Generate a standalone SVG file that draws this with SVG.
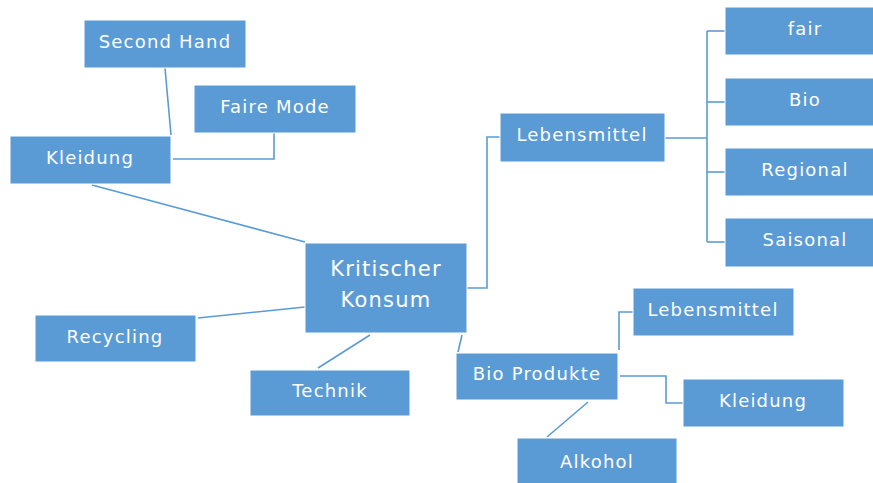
<svg xmlns="http://www.w3.org/2000/svg" width="873" height="483" viewBox="0 0 873 483">
<style>
.n rect{fill:#5b9bd5;stroke:#ffffff;stroke-width:1}
.n text{fill:#ffffff;font-family:"DejaVu Sans","Liberation Sans",sans-serif;font-size:18px;text-anchor:middle;letter-spacing:1.2px}
.big text{font-size:21px}
.c{fill:none;stroke:#5b9bd5;stroke-width:1.6}
</style>
<rect width="873" height="483" fill="#ffffff"/>
<g id="connectors" class="c">
<line x1="165" y1="68" x2="171" y2="135"/>
<polyline points="274,133 274,159 173,159"/>
<line x1="92" y1="185" x2="305" y2="242"/>
<line x1="198" y1="318" x2="305" y2="307"/>
<line x1="318" y1="368" x2="370" y2="335"/>
<line x1="462" y1="335" x2="458" y2="352"/>
<polyline points="467,288 487,288 487,137 500,137"/>
<polyline points="665,138 707,138"/>
<line x1="707" y1="31" x2="707" y2="242"/>
<line x1="707" y1="31" x2="725" y2="31"/>
<line x1="707" y1="102" x2="725" y2="102"/>
<line x1="707" y1="172" x2="725" y2="172"/>
<line x1="707" y1="242" x2="725" y2="242"/>
<polyline points="619,350 619,312 633,312"/>
<polyline points="620,376 666,376 666,403 683,403"/>
<line x1="547" y1="437" x2="588" y2="402"/>
</g>
<g id="second-hand" class="n"><rect x="84" y="20" width="162" height="48"/><text x="165" y="48">Second Hand</text></g>
<g id="faire-mode" class="n"><rect x="194" y="85" width="162" height="48"/><text x="275" y="113">Faire Mode</text></g>
<g id="kleidung" class="n"><rect x="10" y="136" width="161" height="48"/><text x="90" y="164">Kleidung</text></g>
<g id="kritischer-konsum" class="n big"><rect x="305" y="243" width="162" height="90"/><text x="386" y="276">Kritischer</text><text x="386" y="307">Konsum</text></g>
<g id="recycling" class="n"><rect x="35" y="315" width="161" height="47"/><text x="115" y="343">Recycling</text></g>
<g id="technik" class="n"><rect x="250" y="370" width="160" height="46"/><text x="330" y="397">Technik</text></g>
<g id="lebensmittel" class="n"><rect x="500" y="113" width="165" height="49"/><text x="582" y="141">Lebensmittel</text></g>
<g id="fair" class="n"><rect x="725" y="7" width="150" height="48"/><text x="805" y="35">fair</text></g>
<g id="bio" class="n"><rect x="725" y="78" width="150" height="48"/><text x="805" y="106">Bio</text></g>
<g id="regional" class="n"><rect x="725" y="148" width="150" height="48"/><text x="805" y="176">Regional</text></g>
<g id="saisonal" class="n"><rect x="725" y="218" width="150" height="49"/><text x="805" y="246">Saisonal</text></g>
<g id="bio-produkte" class="n"><rect x="456" y="353" width="162" height="47"/><text x="537" y="380">Bio Produkte</text></g>
<g id="lebensmittel-2" class="n"><rect x="633" y="288" width="161" height="48"/><text x="713" y="316">Lebensmittel</text></g>
<g id="kleidung-2" class="n"><rect x="683" y="379" width="161" height="48"/><text x="763" y="407">Kleidung</text></g>
<g id="alkohol" class="n"><rect x="517" y="438" width="160" height="48"/><text x="597" y="468">Alkohol</text></g>
</svg>
